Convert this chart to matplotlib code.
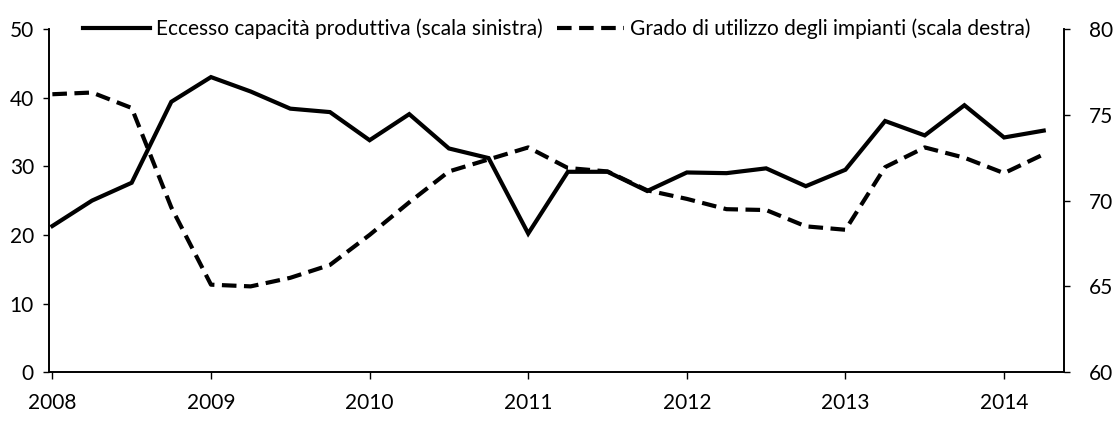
import numpy as np
import matplotlib
matplotlib.use("Agg")
from matplotlib import pyplot as plt

# dati trimestrali 2008 T1 - 2014 T2
quarters = 2008 + np.arange(26) / 4
eccesso = [21.3, 25.0, 27.6, 39.4, 43.0, 40.9, 38.4, 37.9, 33.8, 37.6, 32.6, 31.2, 20.2,
           29.2, 29.2, 26.4, 29.1, 29.0, 29.7, 27.1, 29.5, 36.6, 34.5, 38.9, 34.2, 35.2]
utilizzo = [76.2, 76.3, 75.4, 69.6, 65.1, 65.0, 65.5, 66.25, 68.0, 69.9, 71.7, 72.4, 73.1,
            71.9, 71.7, 70.6, 70.1, 69.5, 69.45, 68.5, 68.3, 71.95, 73.1, 72.5, 71.6, 72.7]
years = [2008, 2009, 2010, 2011, 2012, 2013, 2014]
left_ticks = [0, 10, 20, 30, 40, 50]
right_ticks = [60, 65, 70, 75, 80]

plt.rcParams['font.family'] = ['Lato', 'DejaVu Sans']

fig = plt.figure(figsize=(11.18, 4.21), dpi=100)
ax = fig.add_axes([0.044, 0.116, 0.908, 0.815])
ax2 = ax.twinx()

l1, = ax.plot(quarters, eccesso, color="black", lw=3, solid_joinstyle="miter",
              label="Eccesso capacità produttiva (scala sinistra)")
l2, = ax2.plot(quarters, utilizzo, color="black", lw=3, dashes=(3.5, 1.8),
               dash_capstyle="butt", label="Grado di utilizzo degli impianti (scala destra)")

ax.set_xlim(2007.98, 2014.38)
ax.set_ylim(0, 50)
ax2.set_ylim(60, 80)
ax.set_xticks(years)
ax.set_xticklabels([str(y) for y in years])
ax.set_yticks(left_ticks)
ax2.set_yticks(right_ticks)

for a in (ax, ax2):
    a.spines["top"].set_visible(False)
    for s in a.spines.values():
        s.set_linewidth(1.2)
ax.tick_params(axis="x", direction="out", length=5, width=1, pad=10, labelsize=15)
ax.tick_params(axis="y", direction="out", length=4, width=1, pad=7, labelsize=15)
ax2.tick_params(axis="y", direction="out", length=4, width=1, pad=14, labelsize=15)

ax.legend(handles=[l1, l2], loc="center", bbox_to_anchor=(0.5, 1.0), ncol=2,
          frameon=False, fontsize=15, handlelength=3.2, handletextpad=0.3,
          columnspacing=0.7, borderaxespad=0)

fig.savefig("out.png", dpi=100)
